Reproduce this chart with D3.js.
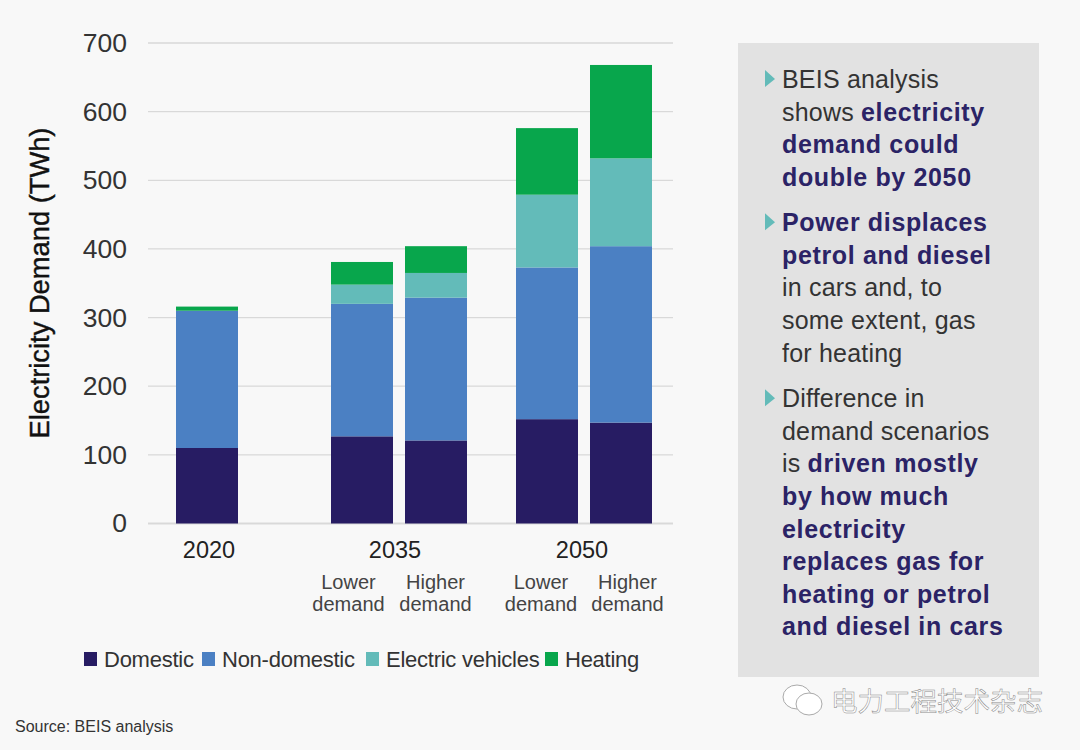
<!DOCTYPE html>
<html lang="en">
<head>
<meta charset="UTF-8">
<title>Electricity Demand</title>
<style>
    body { margin: 0; background: #f8f8f8; }
    svg { display: block; font-family: "Liberation Sans", Arial, sans-serif; }
</style>
<script src="https://cdnjs.cloudflare.com/ajax/libs/d3/7.8.5/d3.min.js"></script>
</head>
<body>
<svg id="chart" width="1080" height="750"></svg>
<script>
// data (TWh)
const barKeys = ["2020", "2035L", "2035H", "2050L", "2050H"];
const domestic = [110, 127, 121, 152, 147];
const nonDomestic = [200, 193, 208, 221, 257];
const electricVehicles = [0, 28, 36, 106, 128];
const heating = [6, 33, 39, 97, 136];
const yTicks = [0, 100, 200, 300, 400, 500, 600, 700];
const seriesNames = ["Domestic", "Non-domestic", "Electric vehicles", "Heating"];
const seriesColors = ["#271c63", "#4b80c3", "#63bbb9", "#08a64c"];
const yearLabels = ["2020", "2035", "2050"];
const scenarioLabels = ["Lower", "Higher", "Lower", "Higher"];

// panel text, each line is a list of [text, isBold] runs
const panelLines = [
    [["BEIS analysis", 0]],
    [["shows ", 0], ["electricity", 1]],
    [["demand could", 1]],
    [["double by 2050", 1]],
    [["Power displaces", 1]],
    [["petrol and diesel", 1]],
    [["in cars and, to", 0]],
    [["some extent, gas", 0]],
    [["for heating", 0]],
    [["Difference in", 0]],
    [["demand scenarios", 0]],
    [["is ", 0], ["driven mostly", 1]],
    [["by how much", 1]],
    [["electricity", 1]],
    [["replaces gas for", 1]],
    [["heating or petrol", 1]],
    [["and diesel in cars", 1]]
];
const bulletLines = [0, 4, 9];

const svg = d3.select("#chart");
const textColor = "#222";

// scales
const y = d3.scaleLinear().domain([0, 700]).range([523.5, 43]);
const x = d3.scaleOrdinal().domain(barKeys).range([207, 362, 436, 547, 621]);
const barWidth = 62;

// gridlines
svg.append("g").selectAll("line")
    .data(yTicks)
    .join("line")
    .attr("x1", 148)
    .attr("x2", 673)
    .attr("y1", d => y(d))
    .attr("y2", d => y(d))
    .attr("stroke", "#d9d9d9")
    .attr("stroke-width", d => d === 0 ? 2 : 1.3);

// y axis labels
const yAxis = svg.append("g")
    .attr("transform", "translate(148,0)")
    .call(d3.axisLeft(y).tickValues(yTicks).tickSize(0).tickPadding(21));
yAxis.select(".domain").remove();
yAxis.selectAll("text")
    .attr("font-family", "Liberation Sans")
    .attr("font-size", 26.5)
    .attr("fill", "#333");

svg.append("text")
    .attr("transform", "translate(49,283) rotate(-90)")
    .attr("text-anchor", "middle")
    .attr("font-size", 27.3)
    .attr("fill", "#111")
    .attr("stroke", "#111")
    .attr("stroke-width", 0.4)
    .text("Electricity Demand (TWh)");

// stacked bars
const rows = barKeys.map((key, i) => ({
    key: key,
    Domestic: domestic[i],
    "Non-domestic": nonDomestic[i],
    "Electric vehicles": electricVehicles[i],
    Heating: heating[i]
}));
const stacked = d3.stack().keys(seriesNames)(rows);

svg.append("g").selectAll("g")
    .data(stacked)
    .join("g")
    .attr("fill", (d, i) => seriesColors[i])
    .selectAll("rect")
    .data(d => d)
    .join("rect")
    .attr("x", d => x(d.data.key) - barWidth / 2)
    .attr("width", barWidth)
    .attr("y", d => y(d[1]))
    .attr("height", d => y(d[0]) - y(d[1]));

// category labels
const yearX = d3.scaleOrdinal().domain(yearLabels).range([209, 395, 582]);
svg.append("g").selectAll("text")
    .data(yearLabels)
    .join("text")
    .attr("x", d => yearX(d))
    .attr("y", 558)
    .attr("text-anchor", "middle")
    .attr("font-size", 23.5)
    .attr("fill", textColor)
    .text(d => d);

const scenarioX = d3.scaleOrdinal().domain([0, 1, 2, 3]).range([348.5, 435.5, 541, 627.5]);
scenarioLabels.forEach((label, i) => {
    const t = svg.append("text")
        .attr("text-anchor", "middle")
        .attr("font-size", 20)
        .attr("fill", "#444");
    t.append("tspan").attr("x", scenarioX(i)).attr("y", 589).text(label);
    t.append("tspan").attr("x", scenarioX(i)).attr("y", 611).text("demand");
});

// legend
const legendX = d3.scaleOrdinal().domain(seriesNames).range([84, 202, 366, 545]);
const legend = svg.append("g").selectAll("g")
    .data(seriesNames)
    .join("g")
    .attr("transform", d => `translate(${legendX(d)},652)`);
legend.append("rect")
    .attr("width", 13)
    .attr("height", 14)
    .attr("fill", (d, i) => seriesColors[i]);
legend.append("text")
    .attr("x", 20)
    .attr("y", 15)
    .attr("font-size", 22)
    .attr("letter-spacing", -0.25)
    .attr("fill", "#333")
    .text(d => d);

svg.append("text")
    .attr("x", 15)
    .attr("y", 732)
    .attr("font-size", 16)
    .attr("fill", "#333")
    .text("Source: BEIS analysis");

// side panel
svg.append("rect")
    .attr("x", 738)
    .attr("y", 43)
    .attr("width", 301)
    .attr("height", 634)
    .attr("fill", "#e2e2e2");

// gaps between paragraphs are larger than line spacing
const lineY = i => 88 + i * 32.6 + (i >= 4 ? 12.8 : 0) + (i >= 9 ? 13 : 0);

const panel = svg.append("g");
panelLines.forEach((runs, i) => {
    const t = panel.append("text")
        .attr("x", 782)
        .attr("y", lineY(i))
        .attr("font-size", 25);
    runs.forEach(r => {
        t.append("tspan")
            .attr("font-weight", r[1] ? "bold" : "normal")
            .attr("fill", r[1] ? "#2b2366" : "#333")
            .attr("letter-spacing", r[1] ? 0.65 : 0.2)
            .text(r[0]);
    });
});

panel.selectAll("path")
    .data(bulletLines)
    .join("path")
    .attr("d", d => `M765,${lineY(d) - 18}L775,${lineY(d) - 9}L765,${lineY(d) - 1}Z`)
    .attr("fill", "#63bbb9");

// watermark
const mark = svg.append("g").attr("fill", "#fff").attr("stroke", "#aaa");
mark.append("ellipse")
    .attr("cx", 797).attr("cy", 697).attr("rx", 14).attr("ry", 12);
mark.append("ellipse")
    .attr("cx", 809).attr("cy", 704).attr("rx", 13).attr("ry", 11);
mark.append("text")
    .attr("x", 831)
    .attr("y", 711)
    .attr("font-family", "Noto Sans CJK SC")
    .attr("font-size", 26.5)
    .attr("stroke", "#888")
    .attr("stroke-width", 0.5)
    .text("电力工程技术杂志");
</script>
</body>
</html>
